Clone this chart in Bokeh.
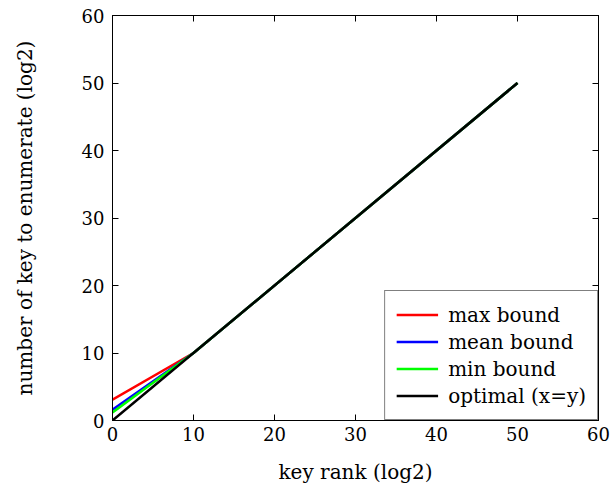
from bokeh.plotting import figure
from bokeh.models import Range1d, FixedTicker, LinearAxis, Legend, LegendItem
from bokeh.embed import file_html
from bokeh.resources import INLINE

# data
x_max = [0, 10, 50]
y_max = [3.1, 10, 50]
x_mean = [0, 10, 50]
y_mean = [1.6, 10, 50]
x_min = [0, 10, 50]
y_min = [1.2, 10, 50]
x_opt = [0, 50]
y_opt = [0, 50]
ticks = [0, 10, 20, 30, 40, 50, 60]

FONT = "DejaVu Serif"

p = figure(width=612, height=489, output_backend="svg", toolbar_location=None,
           x_range=Range1d(0, 60), y_range=Range1d(0, 60),
           frame_width=486, frame_height=405,
           min_border_left=112, min_border_right=14, min_border_top=15, min_border_bottom=69)
p.xgrid.visible = False
p.ygrid.visible = False
p.outline_line_color = "black"
p.outline_line_width = 1
p.background_fill_color = "white"
p.border_fill_color = "white"

r1 = p.line(x_max, y_max, line_color="red", line_width=2.5)
r2 = p.line(x_mean, y_mean, line_color="blue", line_width=2.5)
r3 = p.line(x_min, y_min, line_color="#00ff00", line_width=2.5)
r4 = p.line(x_opt, y_opt, line_color="black", line_width=2.5)

for ax in (p.xaxis[0], p.yaxis[0]):
    ax.ticker = FixedTicker(ticks=ticks)
    ax.minor_tick_line_color = None
    ax.major_tick_in = 6
    ax.major_tick_out = 0
    ax.axis_line_color = "black"
    ax.major_label_text_font = FONT
    ax.major_label_text_font_size = "18px"
    ax.major_label_text_color = "black"
    ax.axis_label_text_font = FONT
    ax.axis_label_text_font_size = "20px"
    ax.axis_label_text_font_style = "normal"
    ax.axis_label_text_color = "black"

p.xaxis[0].axis_label = "key rank (log2)"
p.yaxis[0].axis_label = "number of key to enumerate (log2)"
p.xaxis[0].major_label_standoff = 6
p.yaxis[0].major_label_standoff = 8
p.xaxis[0].axis_label_standoff = 16
p.yaxis[0].axis_label_standoff = 42

top = LinearAxis(ticker=FixedTicker(ticks=ticks), major_tick_in=6, major_tick_out=0,
                 minor_tick_line_color=None, major_label_text_font_size="0px",
                 major_label_text_color=None, axis_line_color="black", major_label_standoff=0)
right = LinearAxis(ticker=FixedTicker(ticks=ticks), major_tick_in=6, major_tick_out=0,
                   minor_tick_line_color=None, major_label_text_font_size="0px",
                   major_label_text_color=None, axis_line_color="black", major_label_standoff=0)
p.add_layout(top, "above")
p.add_layout(right, "right")

legend = Legend(items=[
    LegendItem(label="max bound", renderers=[r1]),
    LegendItem(label="mean bound", renderers=[r2]),
    LegendItem(label="min bound", renderers=[r3]),
    LegendItem(label="optimal (x=y)", renderers=[r4]),
], location="bottom_right")
legend.label_text_font = FONT
legend.label_text_font_size = "20px"
legend.label_text_color = "black"
legend.border_line_color = "black"
legend.border_line_width = 1
legend.background_fill_alpha = 1
legend.margin = 0
legend.padding = 11
legend.spacing = 2
legend.glyph_width = 42
legend.glyph_height = 25
legend.label_height = 25
legend.label_standoff = 10
p.add_layout(legend)

open("out.html", "w").write(file_html(p, INLINE))
